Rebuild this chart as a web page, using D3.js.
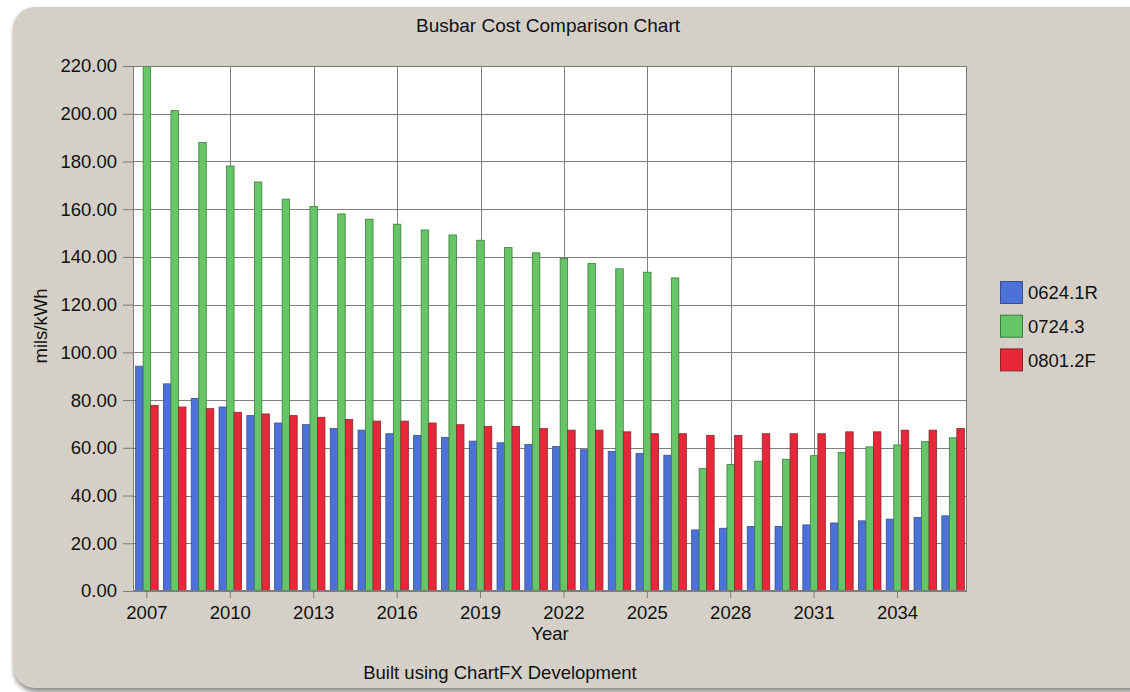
<!DOCTYPE html>
<html>
<head>
<meta charset="utf-8">
<script src="https://cdn.jsdelivr.net/npm/d3@7"></script>
<style>
  html, body { margin: 0; padding: 0; background: #ffffff; }
  svg { display: block; }
  text { font-family: "Liberation Sans", Arial, sans-serif; fill: #111; }
</style>
</head>
<body>
<svg id="chart" width="1130" height="692"></svg>
<script>
const years = d3.range(2007, 2037).map(String);
const seriesNames = ["0624.1R", "0724.3", "0801.2F"];
const seriesColors = ["#4c72d8", "#66c566", "#e6283a"];
const seriesStrokes = ["#3a4f8c", "#3f7d3f", "#8a2a2a"];
const s0624 = [94.2, 86.8, 80.7, 77.1, 73.5, 70.4, 69.7, 68.1, 67.4, 65.9, 65.2, 64.4, 62.8, 62.1, 61.4, 60.6, 59.2, 58.5, 57.6, 56.9, 25.6, 26.3, 27.0, 27.0, 27.7, 28.5, 29.4, 30.1, 30.8, 31.5];
const s0724 = [220.0, 201.3, 187.9, 178.1, 171.4, 164.2, 161.1, 158.0, 155.8, 153.7, 151.3, 149.2, 147.0, 143.9, 141.7, 139.3, 137.2, 135.0, 133.6, 131.2, 51.4, 53.0, 54.4, 55.2, 56.7, 58.1, 60.4, 61.2, 62.6, 64.2];
const s0801 = [77.8, 77.1, 76.4, 74.9, 74.2, 73.5, 72.8, 71.9, 71.2, 71.2, 70.4, 69.7, 69.0, 69.0, 68.1, 67.4, 67.4, 66.7, 65.9, 65.9, 65.2, 65.2, 65.9, 65.9, 65.9, 66.7, 66.7, 67.4, 67.4, 68.1];
const yTicks = [0, 20, 40, 60, 80, 100, 120, 140, 160, 180, 200, 220];
const xTickLabels = ["2007", "2010", "2013", "2016", "2019", "2022", "2025", "2028", "2031", "2034"];
const titleText = "Busbar Cost Comparison Chart";
const xTitle = "Year";
const yTitle = "mils/kWh";
const footer = "Built using ChartFX Development";

const seriesValues = [s0624, s0724, s0801];

const svg = d3.select("#chart");
const W = 1130, H = 692;
const plot = { left: 133, right: 967, top: 66, bottom: 591 };
const FS = "18.5px";

// Panel background with shadow
const defs = svg.append("defs");
const blur = defs.append("filter").attr("id", "sh").attr("x", "-5%").attr("y", "-5%").attr("width", "110%").attr("height", "110%");
blur.append("feGaussianBlur").attr("stdDeviation", 2.5);
defs.append("clipPath").attr("id", "plotclip").append("rect")
  .attr("x", plot.left).attr("y", plot.top)
  .attr("width", plot.right - plot.left).attr("height", plot.bottom - plot.top);

svg.append("rect").attr("x", 14).attr("y", 10).attr("width", 1140).attr("height", 682)
  .attr("rx", 22).attr("fill", "#8e8c88").attr("filter", "url(#sh)");
svg.append("rect").attr("x", 13).attr("y", 7).attr("width", 1140).attr("height", 681)
  .attr("rx", 22).attr("fill", "#d4d0c8");

// Scales
const x = d3.scaleBand().domain(years).range([plot.left, plot.right]).paddingInner(0).paddingOuter(0);
const x1 = d3.scaleBand().domain(seriesNames).range([0, x.bandwidth()]).paddingInner(0).paddingOuter(0.35);
const y = d3.scaleLinear().domain([0, 220]).range([plot.bottom, plot.top]);

// Plot background
svg.append("rect").attr("x", plot.left).attr("y", plot.top)
  .attr("width", plot.right - plot.left).attr("height", plot.bottom - plot.top)
  .attr("fill", "#ffffff");

// Grid lines
const grid = svg.append("g").attr("stroke", "#7f7f7f").attr("stroke-width", 1);
grid.selectAll("line.h").data(yTicks).join("line").attr("class", "h")
  .attr("x1", plot.left).attr("x2", plot.right)
  .attr("y1", d => Math.round(y(d)) + 0.5).attr("y2", d => Math.round(y(d)) + 0.5);
grid.selectAll("line.v").data(xTickLabels).join("line").attr("class", "v")
  .attr("y1", plot.top).attr("y2", plot.bottom)
  .attr("x1", d => Math.round(x(d) + x.bandwidth() / 2) + 0.5)
  .attr("x2", d => Math.round(x(d) + x.bandwidth() / 2) + 0.5);

// Bars
const rows = years.map((yr, i) => ({ year: yr, vals: seriesNames.map((s, k) => ({ s, k, v: seriesValues[k][i] })) }));
const barsG = svg.append("g").attr("clip-path", "url(#plotclip)");
barsG.selectAll("g").data(rows).join("g")
  .attr("transform", d => `translate(${x(d.year)},0)`)
  .selectAll("rect").data(d => d.vals).join("rect")
  .attr("x", d => x1(d.s))
  .attr("width", x1.bandwidth())
  .attr("y", d => y(d.v))
  .attr("height", d => y(0) - y(d.v))
  .attr("fill", d => seriesColors[d.k])
  .attr("stroke", d => seriesStrokes[d.k])
  .attr("stroke-width", 0.8);

// Frame
svg.append("rect").attr("x", plot.left + 0.5).attr("y", plot.top + 0.5)
  .attr("width", plot.right - plot.left - 1).attr("height", plot.bottom - plot.top - 1)
  .attr("fill", "none").attr("stroke", "#7a7a7a").attr("stroke-width", 1);

// Y axis
const yAxis = d3.axisLeft(y).tickValues(yTicks).tickFormat(d3.format(".2f")).tickSize(10).tickPadding(6);
const yg = svg.append("g").attr("transform", `translate(${plot.left},0)`).call(yAxis);
yg.select(".domain").remove();
yg.selectAll(".tick line").attr("stroke", "#7a7a7a");
yg.selectAll(".tick text").style("font-size", FS).style("font-family", "Liberation Sans, Arial, sans-serif").attr("fill", "#111");

// X axis
const xAxis = d3.axisBottom(x).tickValues(xTickLabels).tickSize(7).tickPadding(8);
const xg = svg.append("g").attr("transform", `translate(0,${plot.bottom})`).call(xAxis);
xg.select(".domain").remove();
xg.selectAll(".tick line").attr("stroke", "#7a7a7a");
xg.selectAll(".tick text").style("font-size", FS).style("font-family", "Liberation Sans, Arial, sans-serif").attr("fill", "#111");

// Titles
svg.append("text").attr("x", 548).attr("y", 32).attr("text-anchor", "middle").style("font-size", "19px").text(titleText);
svg.append("text").attr("x", 550).attr("y", 640).attr("text-anchor", "middle").style("font-size", FS).text(xTitle);
svg.append("text").attr("transform", "translate(47,326) rotate(-90)").attr("text-anchor", "middle").style("font-size", FS).text(yTitle);
svg.append("text").attr("x", 500).attr("y", 679).attr("text-anchor", "middle").style("font-size", FS).text(footer);

// Legend
const lg = svg.append("g").attr("transform", "translate(1000,281)");
const li = lg.selectAll("g").data(seriesNames).join("g").attr("transform", (d, i) => `translate(0,${i * 33.7})`);
li.append("rect").attr("x", 0.5).attr("y", 0.5).attr("width", 22).attr("height", 22)
  .attr("fill", (d, i) => seriesColors[i]).attr("stroke", (d, i) => seriesStrokes[i]).attr("stroke-width", 1);
li.append("text").attr("x", 28).attr("y", 11.5).attr("dy", "0.36em").style("font-size", FS).text(d => d);
</script>
</body>
</html>
